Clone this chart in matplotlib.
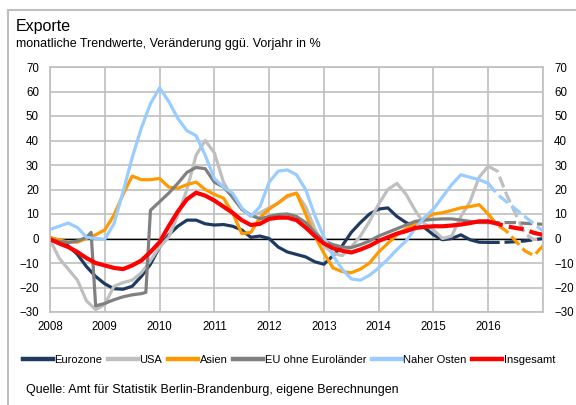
import matplotlib
matplotlib.use('Agg')
import matplotlib.pyplot as plt
from matplotlib.lines import Line2D

plt.rcParams['font.family'] = ['Liberation Sans', 'DejaVu Sans']

title = 'Exporte'
subtitle = 'monatliche Trendwerte, Veränderung ggü. Vorjahr in %'
source = 'Quelle: Amt für Statistik Berlin-Brandenburg, eigene Berechnungen'

# months since Jan 2008
months = list(range(0, 109, 2))

eurozone = [0.3, -0.8, -3, -6.5, -11.5, -15.5, -18.5, -20.5, -20.7, -19.5, -15.5, -10.5, -3.5,
            1.5, 5, 7.5, 7.5, 6, 5.5, 5.7, 5, 3.5, 0.5, 1, 0,
            -3.5, -5.5, -6.5, -7.5, -9.5, -10.5, -7, -3, 2.5, 6.5, 10, 12,
            12.5, 9, 6.5, 5, 4.5, 1.5, -0.5, 0, 1.5, -0.5, -1.5, -1.6,
            -1.6, -1.5, -1.3, -1, -0.5, 0]

usa = [-0.5, -8, -12.5, -17, -25.5, -29, -27, -19.5, -18, -17, -14, -9, -3.5,
       0.5, 9.5, 20, 34, 40, 35, 23, 16.5, 12, 9, 10.5, 12.5,
       14.5, 17, 18.5, 13, 4, -3, -6, -7, -3.5, 1, 7, 14,
       20, 22.5, 18, 11.5, 6, 3.5, 0, 1, 9, 15, 25, 29.5,
       27.5, 18, 10, 2, -0.5, 0.5]

asien = [0.4, -0.5, -1.5, -1.5, 0, 1.5, 3.5, 9.5, 18, 25.5, 24, 24, 24.5,
         21, 20.5, 22, 23, 20, 18, 16.5, 10.5, 2, 2.5, 8.5, 12,
         14.5, 17.5, 18.5, 10, 1, -6, -12, -13.5, -14, -12.5, -10, -5.5,
         -2, 1.5, 4, 6, 8, 10, 10.5, 11.5, 12.5, 13, 13.8, 10,
         5.5, 3, -1, -5, -7, -3]

naher_osten = [3.7, 5, 6.3, 4.5, 0.5, 0, -0.3, 6, 19, 33, 45, 55, 61.5,
               56, 49, 44, 42, 34, 24.5, 21, 18.5, 12.5, 9, 13, 23,
               27.5, 28, 26, 20, 9.5, 0.5, -7, -12.5, -16.5, -17, -15, -12,
               -8.5, -4.5, -1, 4, 8.5, 12, 17, 22, 26, 25, 24, 22.5,
               18, 15, 12, 9, 6, 3]

insgesamt = [-0.3, -2, -3.5, -5.5, -8, -10, -11, -12, -12.5, -11, -9, -5.5, -1.5,
             5, 11, 16, 18.7, 17.5, 15.5, 13, 10.5, 7.5, 5.5, 6, 8,
             8.5, 8.5, 7.5, 4.5, 1, -2, -4, -5, -5.7, -4.5, -3, -1,
             0.5, 2, 3, 4.3, 4.7, 5, 5, 5.3, 5.7, 6.3, 7, 7,
             6, 5, 4.3, 3.7, 2.3, 1.5]

eu_months = [0, 2, 4, 6, 8, 9, 10, 12, 14, 16, 18, 20, 21, 22] + list(range(24, 109, 2))
eu_ohne = [-0.3, -1.2, -1.6, -1, 0.5, 2.5, -27.5, -26.5, -25, -23.8, -23, -22.5, -22, 11.5,
           15, 18.5, 22.5, 27, 29, 28.5, 23, 21, 17, 12, 9.5, 8, 9,
           9.8, 10, 9, 6.5, 2.5, -1, -2.5, -3.5, -3.7, -2.5, -1, 1,
           2.5, 4, 5.5, 7, 7.5, 7.8, 8, 8, 7.5, 7, 6.5, 6.5,
           6.5, 6.5, 6.5, 6.2, 6, 5.8]

forecast_start = 96  # Jan 2016: dashed from here on

series = [
    ('Eurozone', months, eurozone, '#1F3A60', 2.3),
    ('USA', months, usa, '#BFBFBF', 2.3),
    ('Asien', months, asien, '#FF9900', 2.3),
    ('EU ohne Euroländer', eu_months, eu_ohne, '#808080', 2.3),
    ('Naher Osten', months, naher_osten, '#99CCFF', 2.3),
    ('Insgesamt', months, insgesamt, '#FF0000', 3.0),
]

years = list(range(2008, 2018))
year_labels = [str(y) for y in range(2008, 2017)] + ['']
yticks = list(range(-30, 71, 10))

W, H = 576, 405
fig = plt.figure(figsize=(W / 100, H / 100), dpi=100)
L, R, T, B = 50, 543, 67, 312
ax = fig.add_axes([L / W, 1 - B / H, (R - L) / W, (B - T) / H])

grid_c = '#BFBFBF'
ax.set_xlim(2008, 2017)
ax.set_ylim(-30, 70)
ax.set_xticks(years)
ax.set_xticklabels(year_labels)
ax.set_yticks(yticks)
ax.grid(True, color=grid_c, lw=1.2, zorder=0)
ax.set_axisbelow(True)
for s in ax.spines.values():
    s.set_color(grid_c)
    s.set_linewidth(1.2)
ax.tick_params(axis='both', length=0, labelsize=8.3, colors='black')
ax.tick_params(axis='y', labelright=True, pad=8)
ax.tick_params(axis='x', pad=6.5)
ax.axhline(0, color='black', lw=1, zorder=1)

handles = []
for name, m, vals, col, lw in series:
    xs = [2008 + k / 12 for k in m]
    xs_solid = [x for x, k in zip(xs, m) if k <= forecast_start]
    vs_solid = [v for v, k in zip(vals, m) if k <= forecast_start]
    xs_dash = [x for x, k in zip(xs, m) if k >= forecast_start]
    vs_dash = [v for v, k in zip(vals, m) if k >= forecast_start]
    ax.plot(xs_solid, vs_solid, color=col, lw=lw, solid_joinstyle='round',
            solid_capstyle='round', zorder=2)
    ax.plot(xs_dash, vs_dash, color=col, lw=lw, dashes=(3.6, 1.5), zorder=2)
    handles.append(Line2D([], [], color=col, lw=3.2))

fig.legend(handles, [s[0] for s in series], loc='center',
           bbox_to_anchor=(289 / W, 1 - 360 / H), ncol=6, frameon=False,
           fontsize=8, handlelength=2.7, handletextpad=0.15, columnspacing=0.5,
           borderpad=0, borderaxespad=0)

fig.text(16 / W, 1 - 31 / H, title, fontsize=11.5, va='baseline', ha='left')
fig.text(16 / W, 1 - 47 / H, subtitle, fontsize=9, va='baseline', ha='left')
fig.text(26 / W, 1 - 390 / H, source, fontsize=9, va='center', ha='left')

fig.add_artist(Line2D([8 / W, 8 / W], [0, 1 - 10 / H], transform=fig.transFigure,
                      color=grid_c, lw=1.5))
fig.add_artist(Line2D([8 / W, 1], [1 - 10 / H, 1 - 10 / H], transform=fig.transFigure,
                      color=grid_c, lw=1.5))

fig.savefig('out.png', dpi=100)
